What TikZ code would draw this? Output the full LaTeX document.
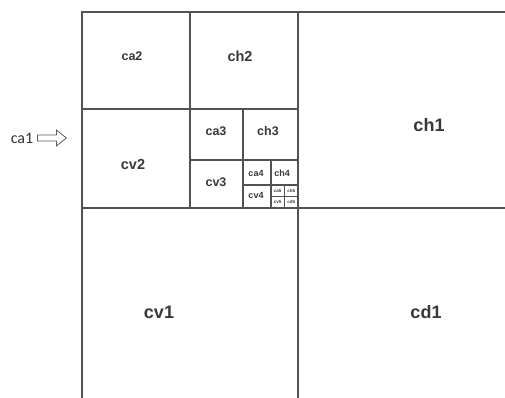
\documentclass[tikz,border=0pt]{standalone}
\usepackage{fontspec}
\setsansfont{Liberation Sans}
\newfontfamily\calibrifont{Carlito}
\usetikzlibrary{positioning}

\begin{document}
\begin{tikzpicture}[
  x=1pt, y=-1pt,
  grid/.style={line width=1.3pt, draw=black!68},
  fine/.style={line width=0.8pt, draw=black!68},
  lbl/.style={font=\sffamily\bfseries, text=black!78, inner sep=0pt},
  big/.style={lbl, font=\sffamily\bfseries\fontsize{18}{18}\selectfont},
  mid/.style={lbl, font=\sffamily\bfseries\fontsize{14.5}{15}\selectfont},
  small/.style={lbl, font=\sffamily\bfseries\fontsize{12.5}{13}\selectfont},
  tiny/.style={lbl, font=\sffamily\bfseries\fontsize{9}{9}\selectfont},
  micro/.style={lbl, font=\sffamily\bfseries\fontsize{4.5}{5}\selectfont},
  hollow/.style={draw=black!65, line width=0.8pt, line join=miter}
]
\useasboundingbox (0,0) rectangle (505,398);

% outer frame and first split
\draw[grid] (82,398) |- (505,12);
\draw[grid] (298,12) -- (298,398);
\draw[grid] (82,208) -- (505,208);

% second level
\draw[grid] (190,12) -- (190,208);
\draw[grid] (82,109) -- (298,109);

% third level
\draw[grid] (243,109) -- (243,208);
\draw[grid] (190,160) -- (298,160);

% fourth level
\draw[grid] (271,160) -- (271,208);
\draw[grid] (243,185) -- (298,185);

% fifth level
\draw[fine] (284.5,185) -- (284.5,208);
\draw[fine] (271,196.5) -- (298,196.5);

\node[big] (ch1) at (429,125) {ch1};
\node[big] (cv1) at (159,312) {cv1};
\node[big] (cd1) at (426,312) {cd1};

\node[small] (ca2) at (132,56) {ca2};
\node[mid] (ch2) at (240,56) {ch2};
\node[mid] (cv2) at (133,165) {cv2};

\node[small] (ca3) at (216,131) {ca3};
\node[small] (ch3) at (268,131) {ch3};
\node[small] (cv3) at (216,182) {cv3};

\node[tiny] (ca4) at (256,173) {ca4};
\node[tiny] (ch4) at (282,173) {ch4};
\node[tiny] (cv4) at (256,195) {cv4};

\node[micro] (ca5) at (277.7,190.7) {ca5};
\node[micro] (ch5) at (291.2,190.7) {ch5};
\node[micro] (cv5) at (277.7,202.3) {cv5};
\node[micro] (cd5) at (291.2,202.3) {cd5};

\node[font=\calibrifont\fontsize{16}{16}\selectfont, text=black!80, inner sep=0pt] (ca1) at (22,138) {ca1};
\coordinate[right=4pt of ca1] (ca1arrow);
% hollow block arrow
\draw[hollow] (ca1arrow) ++(0,-3) -- ++(19,0) -- ++(0,-5) -- ++(10,8)
  -- ++(-10,8) -- ++(0,-5) -- ++(-19,0) -- cycle;

\end{tikzpicture}
\end{document}
